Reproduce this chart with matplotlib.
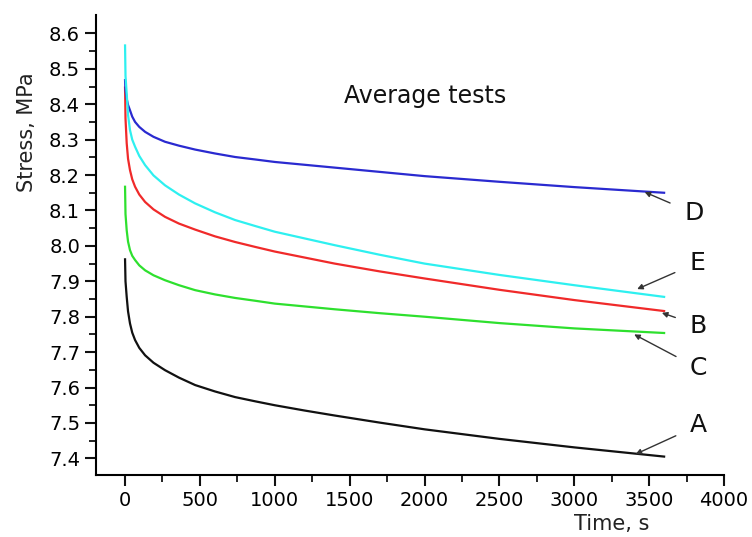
import matplotlib
matplotlib.use("Agg")
import matplotlib.pyplot as plt

plt.rcParams.update({
    "font.family": "DejaVu Sans",
    "axes.linewidth": 1.5,
    "xtick.major.width": 1.5, "ytick.major.width": 1.5,
    "xtick.minor.width": 1.3, "ytick.minor.width": 1.3,
    "xtick.direction": "out", "ytick.direction": "out",
})

# time (s) and stress (MPa)
time = [0, 3, 11, 20, 33, 48, 67, 95, 134, 190, 267, 360, 468, 600, 735, 870,
        1000, 1200, 1400, 1700, 2000, 2500, 3000, 3600]
stress_A = [7.962, 7.90, 7.856, 7.815, 7.781, 7.755, 7.734, 7.712, 7.691, 7.670,
            7.649, 7.628, 7.607, 7.589, 7.573, 7.561, 7.550, 7.535, 7.521, 7.501,
            7.482, 7.455, 7.431, 7.405]
stress_B = [8.447, 8.36, 8.290, 8.246, 8.214, 8.188, 8.167, 8.145, 8.124, 8.103,
            8.082, 8.063, 8.046, 8.027, 8.011, 7.997, 7.984, 7.967, 7.950, 7.928,
            7.908, 7.876, 7.847, 7.816]
stress_C = [8.167, 8.09, 8.044, 8.012, 7.988, 7.972, 7.960, 7.945, 7.931, 7.917,
            7.903, 7.889, 7.875, 7.863, 7.853, 7.845, 7.837, 7.829, 7.821, 7.810,
            7.800, 7.782, 7.767, 7.754]
stress_D = [8.468, 8.44, 8.415, 8.398, 8.383, 8.365, 8.350, 8.336, 8.322, 8.308,
            8.294, 8.283, 8.272, 8.261, 8.251, 8.244, 8.237, 8.229, 8.221, 8.209,
            8.197, 8.181, 8.166, 8.150]
stress_E = [8.566, 8.48, 8.430, 8.370, 8.327, 8.300, 8.280, 8.254, 8.228, 8.199,
            8.171, 8.145, 8.120, 8.095, 8.073, 8.056, 8.040, 8.021, 8.002, 7.975,
            7.950, 7.918, 7.889, 7.856]

labels = ["A", "B", "C", "D", "E"]
colors = ["#111111", "#f02a2a", "#2ee02e", "#2a2ad0", "#2ef0f0"]
series = [stress_A, stress_B, stress_C, stress_D, stress_E]
# label text position and arrow tip (data coords)
label_xy = [(3830, 7.493), (3830, 7.775), (3830, 7.654), (3800, 8.092), (3820, 7.952)]
arrow_xy = [(3410, 7.412), (3585, 7.811), (3400, 7.750), (3470, 8.152), (3420, 7.878)]

fig = plt.figure(figsize=(7.52, 5.37), dpi=100)
ax = fig.add_axes([96 / 752, 62 / 537, 628 / 752, 460 / 537])

for s, c in zip(series, colors):
    ax.plot(time, s, color=c, lw=1.6)

for lab, (tx, ty), (hx, hy) in zip(labels, label_xy, arrow_xy):
    ax.annotate(lab, xy=(hx, hy), xytext=(tx, ty), fontsize=18,
                ha="center", va="center", color="#111111",
                arrowprops=dict(arrowstyle="-|>", color="#333333", lw=1.0,
                                mutation_scale=8, shrinkA=9, shrinkB=0))

ax.set_xlim(-194, 4000)
ax.set_ylim(7.353, 8.652)
ax.set_xticks(range(0, 4001, 500))
ax.set_xticks(range(250, 4001, 500), minor=True)
ax.set_yticks([7.4 + 0.1 * i for i in range(13)])
ax.set_yticklabels(["%.1f" % (7.4 + 0.1 * i) for i in range(13)])
ax.set_yticks([7.45 + 0.1 * i for i in range(12)], minor=True)
ax.tick_params(axis="both", which="major", labelsize=14, length=8, color="#111111")
ax.tick_params(axis="both", which="minor", length=5, color="#111111")
ax.spines["top"].set_visible(False)
ax.spines["right"].set_visible(False)

fig.text(27 / 752, 1 - 132 / 537, "Stress, MPa", rotation=90, fontsize=15,
         ha="center", va="center", color="#222222")
fig.text(612 / 752, 1 - 524 / 537, "Time, s", fontsize=15,
         ha="center", va="center", color="#222222")
fig.text(425 / 752, 1 - 103 / 537, "Average tests", fontsize=17,
         ha="center", va="baseline", color="#111111")

fig.savefig("out.png", dpi=100)
